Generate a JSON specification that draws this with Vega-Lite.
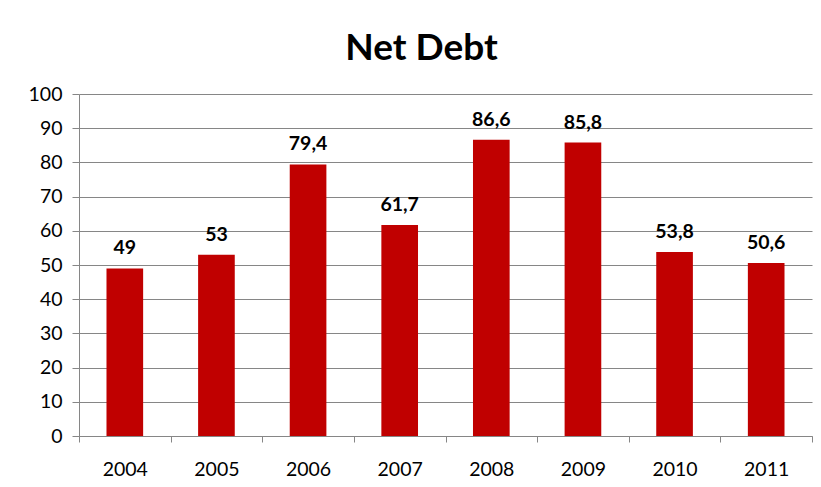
{
  "$schema": "https://vega.github.io/schema/vega-lite/v6.json",
  "autosize": {"type": "none"},
  "width": 733,
  "height": 342,
  "padding": {"left": 79, "top": 94, "right": 9, "bottom": 51},
  "background": "white",
  "config": {
    "locale": {"number": {"decimal": ",", "thousands": ".", "grouping": [3], "currency": ["", ""]}},
    "view": {"stroke": null},
    "font": "Lato"
  },
  "title": {
    "text": "Net Debt",
    "fontSize": 37,
    "fontWeight": "bold",
    "font": "Lato",
    "color": "black",
    "anchor": "middle",
    "offset": 16,
    "dx": -24
  },
  "data": {
    "values": [
      {"year": "2004", "value": 49},
      {"year": "2005", "value": 53},
      {"year": "2006", "value": 79.4},
      {"year": "2007", "value": 61.7},
      {"year": "2008", "value": 86.6},
      {"year": "2009", "value": 85.8},
      {"year": "2010", "value": 53.8},
      {"year": "2011", "value": 50.6}
    ]
  },
  "encoding": {
    "x": {
      "field": "year",
      "type": "nominal",
      "scale": {"paddingInner": 0, "paddingOuter": 0},
      "axis": {
        "title": null,
        "labelAngle": 0,
        "labelFontSize": 19.5,
        "labelColor": "black",
        "labelPadding": 18,
        "domainColor": "#868686",
        "tickColor": "#868686",
        "tickBand": "extent",
        "tickSize": 6,
        "grid": false
      }
    },
    "y": {
      "field": "value",
      "type": "quantitative",
      "scale": {"domain": [0, 100], "nice": false},
      "axis": {
        "title": null,
        "values": [0, 10, 20, 30, 40, 50, 60, 70, 80, 90, 100],
        "labelFontSize": 19.5,
        "labelColor": "black",
        "labelPadding": 10,
        "domainColor": "#868686",
        "tickColor": "#868686",
        "tickSize": 7,
        "gridColor": "#868686",
        "gridWidth": 1
      }
    }
  },
  "layer": [
    {"mark": {"type": "bar", "color": "#C00000", "width": {"band": 0.4}}},
    {
      "mark": {"type": "text", "dy": -14, "baseline": "alphabetic", "fontSize": 19.5, "fontWeight": "bold", "color": "black", "font": "Lato"},
      "encoding": {"text": {"field": "value", "type": "quantitative", "format": ".1~f"}}
    }
  ]
}
